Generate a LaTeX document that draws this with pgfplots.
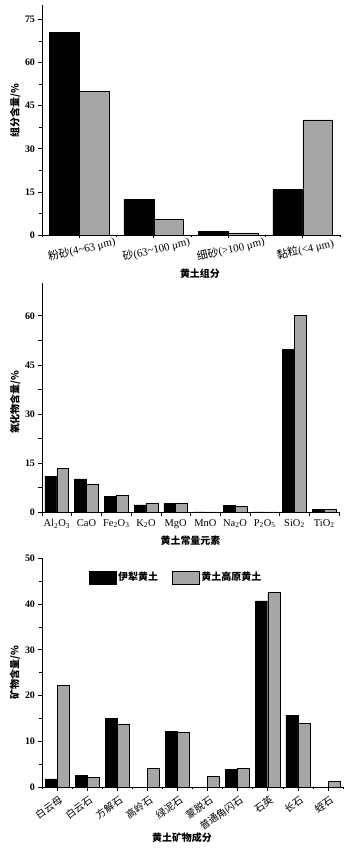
\documentclass[border=0pt]{standalone}
\usepackage{fontspec}
\setmainfont{Liberation Serif}
\newfontfamily\cjk{Noto Sans CJK SC}
\usepackage{pgfplots}
\pgfplotsset{compat=1.18}
\definecolor{barg}{HTML}{A6A6A6}
\newcommand{\fs}{\fontsize{10}{11}\selectfont}
\pgfplotsset{
 myax/.style={
  scale only axis,
  axis x line*=bottom, axis y line*=left,
  ymin=0, xmin=-0.5,
  tick label style={font=\fs},
  yticklabel style={font=\fs\bfseries},
  /pgf/number format/assume math mode=true,
  label style={font=\fs\cjk\bfseries},
  tick style={black, line width=0.6pt},
  major tick length=3.5bp, minor tick length=2.5bp,
  tick align=outside,
  minor y tick num=1,
  axis line style={line width=0.7pt},
 },
 bk/.style={ybar, bar shift=0pt, bar width=0.4, fill=black, draw=black, line width=0.5pt},
 gy/.style={ybar, bar shift=0pt, bar width=0.4, fill=barg, draw=black, line width=0.5pt},
}
\begin{document}
\begin{tikzpicture}
\useasboundingbox (0,0) rectangle (355bp,851bp);
% Panel 1
\begin{axis}[myax,
  at={(42bp,616bp)}, anchor=south west,
  width=298bp, height=230bp,
  xmax=3.5, ymax=80,
  ytick={0,15,30,45,60,75},
  xtick={0,1,2,3},
  minor xtick={-0.5,0.5,1.5,2.5,3.5},
  xticklabels={{\cjk 粉砂}(4\textasciitilde63 μm),{\cjk 砂}(63\textasciitilde100 μm),{\cjk 细砂}(>100 μm),{\cjk 黏粒}(<4 μm)},
  xticklabel style={font=\fontsize{11}{12}\selectfont, rotate=13, anchor=north, yshift=-2bp},
  xlabel={黄土组分}, ylabel={组分含量/\%},
  xlabel style={at={(axis description cs:0.53,-0.17)}, anchor=center},
  ylabel style={at={(axis description cs:-0.09,0.54)}, anchor=center},
]
\addplot[bk] coordinates {(-0.2,70.5) (0.8,12.5) (1.8,1.2) (2.8,15.8)};
\addplot[gy] coordinates {(0.2,50) (1.2,5.5) (2.2,0.7) (3.2,40)};
\end{axis}
% Panel 2
\begin{axis}[myax,
  at={(42bp,338.7bp)}, anchor=south west,
  width=297bp, height=229.3bp,
  xmax=9.5, ymax=70,
  ytick={0,15,30,45,60},
  xtick={0,1,...,9},
  xticklabels={Al\textsubscript{2}O\textsubscript{3},CaO,Fe\textsubscript{2}O\textsubscript{3},K\textsubscript{2}O,MgO,MnO,Na\textsubscript{2}O,P\textsubscript{2}O\textsubscript{5},SiO\textsubscript{2},TiO\textsubscript{2}},
  xticklabel style={font=\fontsize{10.5}{12}\selectfont},
  minor xtick={-0.5,0.5,...,9.5},
  minor tick length=3.5bp,
  every major x tick/.style={draw=none},
  xlabel={黄土常量元素}, ylabel={氧化物含量/\%},
  xlabel style={at={(axis description cs:0.5,-0.122)}, anchor=center},
  ylabel style={at={(axis description cs:-0.09,0.48)}, anchor=center},
]
\addplot[bk] coordinates {(-0.2,11.0) (0.8,10.2) (1.8,4.9) (2.8,2.3) (3.8,2.8) (4.8,0.1) (5.8,2.2) (6.8,0.1) (7.8,49.7) (8.8,0.9)};
\addplot[gy] coordinates {(0.2,13.4) (1.2,8.7) (2.2,5.2) (3.2,2.7) (4.2,2.8) (5.2,0.1) (6.2,1.8) (7.2,0.15) (8.2,60.2) (9.2,0.8)};
\end{axis}
% Panel 3
\begin{axis}[myax,
  at={(42bp,64bp)}, anchor=south west,
  width=301bp, height=228.7bp,
  xmax=9.5, ymax=50,
  ytick={0,10,20,30,40,50},
  xtick={0,1,...,9},
  minor xtick={-0.5,0.5,...,9.5},
  xticklabels={白云母,白云石,方解石,高岭石,绿泥石,蒙脱石,普通角闪石,石英,长石,蛭石},
  xticklabel style={font=\fs\cjk, rotate=35, anchor=north east, xshift=2bp, yshift=-1bp},
  xlabel={黄土矿物成分}, ylabel={矿物含量/\%},
  xlabel style={at={(axis description cs:0.465,-0.223)}, anchor=center},
  ylabel style={at={(axis description cs:-0.09,0.5)}, anchor=center},
  legend columns=2,
  legend style={draw=none, fill=none, font=\fs\cjk\bfseries, at={(axis description cs:0.445,0.917)}, anchor=center, /tikz/every even column/.append style={column sep=12bp}},
  legend image code/.code={\draw[#1, bar width=0.4] (0bp,-6.5bp) rectangle (27bp,6.5bp);},
]
\addplot[bk] coordinates {(-0.2,1.75) (0.8,2.55) (1.8,15.0) (2.8,0) (3.8,12.2) (4.8,0) (5.8,3.8) (6.8,40.7) (7.8,15.6) (8.8,0)};
\addlegendentry{伊犁黄土}
\addplot[gy] coordinates {(0.2,22.2) (1.2,2.1) (2.2,13.8) (3.2,4.15) (4.2,11.95) (5.2,2.4) (6.2,4.1) (7.2,42.6) (8.2,13.85) (9.2,1.3)};
\addlegendentry{黄土高原黄土}
\end{axis}
\end{tikzpicture}
\end{document}
